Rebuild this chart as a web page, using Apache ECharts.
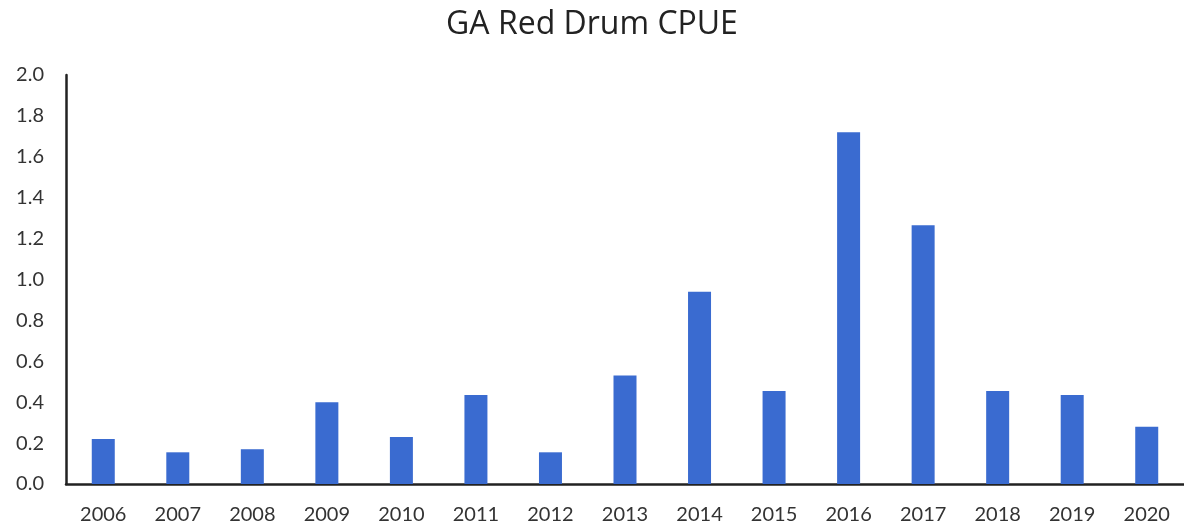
<!DOCTYPE html>
<html>
<head>
<meta charset="utf-8">
<script src="https://cdn.jsdelivr.net/npm/echarts@6/dist/echarts.min.js"></script>
<style>
  html, body { margin: 0; padding: 0; background: #fff; }
  #main { width: 1184px; height: 531px; }
</style>
</head>
<body>
<div id="main"></div>
<script>
var years = ['2006', '2007', '2008', '2009', '2010', '2011', '2012', '2013',
             '2014', '2015', '2016', '2017', '2018', '2019', '2020'];
var cpue = [0.22, 0.155, 0.17, 0.40, 0.23, 0.435, 0.155, 0.53,
            0.94, 0.455, 1.72, 1.265, 0.455, 0.435, 0.28];

var chart = echarts.init(document.getElementById('main'));

chart.setOption({
  backgroundColor: '#fff',
  title: {
    text: 'GA Red Drum CPUE',
    left: 'center',
    top: 4,
    textStyle: { fontFamily: 'Open Sans', fontSize: 32, fontWeight: 'normal', color: '#222' }
  },
  grid: { left: 66, top: 75, width: 1121, bottom: 47, containLabel: false },
  xAxis: {
    type: 'category',
    data: years,
    axisLine: { lineStyle: { color: '#222', width: 2.5 } },
    axisTick: { show: false },
    axisLabel: { margin: 21, fontFamily: 'Lato', fontSize: 20, color: '#333' }
  },
  yAxis: {
    type: 'value',
    min: 0,
    max: 2,
    interval: 0.2,
    axisLine: { show: true, lineStyle: { color: '#222', width: 2.5 } },
    axisTick: { show: false },
    splitLine: { show: false },
    axisLabel: {
      margin: 22,
      fontFamily: 'Lato',
      fontSize: 20,
      color: '#333',
      formatter: function (v) { return v.toFixed(1); }
    }
  },
  series: [{
    type: 'bar',
    data: cpue,
    barWidth: 23,
    itemStyle: { color: '#3a6bd0' }
  }]
});
</script>
</body>
</html>
